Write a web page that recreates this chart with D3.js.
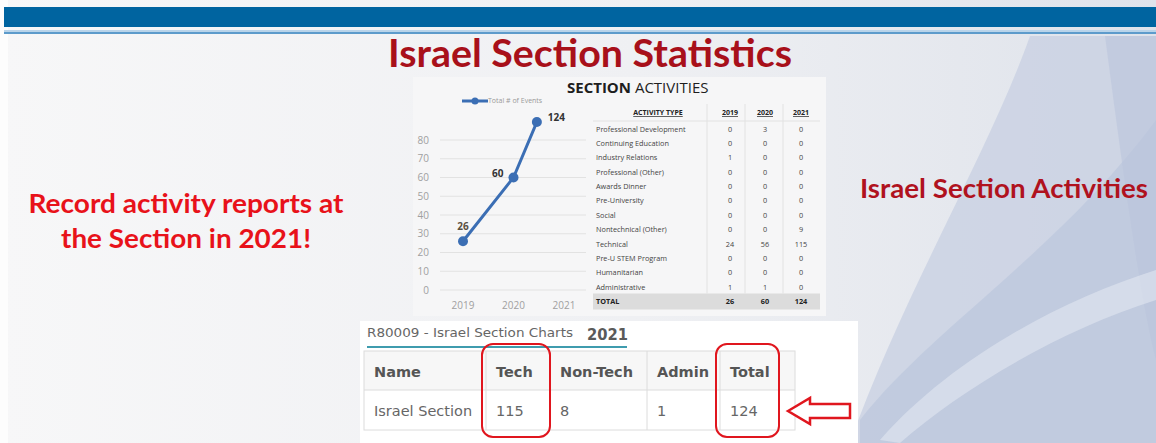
<!DOCTYPE html>
<html>
<head>
<meta charset="utf-8">
<script src="https://cdn.jsdelivr.net/npm/d3@7"></script>
<style>
  html, body { margin: 0; padding: 0; background: #fff; }
  svg { display: block; }
</style>
</head>
<body>
<svg id="slide" width="1156" height="443"></svg>
<script>
// ---- data ----
const years = ['2019', '2020', '2021'];
const totals = [26, 60, 124];
const yTicks = [0, 10, 20, 30, 40, 50, 60, 70, 80];

const activityTypes = [
    'Professional Development', 'Continuing Education', 'Industry Relations',
    'Professional (Other)', 'Awards Dinner', 'Pre-University', 'Social',
    'Nontechnical (Other)', 'Technical', 'Pre-U STEM Program', 'Humanitarian',
    'Administrative'
];
const counts2019 = [0, 0, 1, 0, 0, 0, 0, 0, 24, 0, 0, 1];
const counts2020 = [3, 0, 0, 0, 0, 0, 0, 0, 56, 0, 0, 1];
const counts2021 = [0, 0, 0, 0, 0, 0, 0, 9, 115, 0, 0, 0];

const summaryHeaders = ['Name', 'Tech', 'Non-Tech', 'Admin', 'Total'];
const summaryRow = ['Israel Section', '115', '8', '1', '124'];
const highlighted = ['Tech', 'Total'];

const svg = d3.select('#slide');
const W = 1156, H = 443;
const calibri = 'Lato, "Open Sans", sans-serif';
const defs = svg.append('defs');

// ---- slide background ----
const bg = defs.append('linearGradient').attr('id', 'bg').attr('x1', 0).attr('x2', 1).attr('y1', 0).attr('y2', 0);
bg.append('stop').attr('offset', '0%').attr('stop-color', '#f7f7f8');
bg.append('stop').attr('offset', '55%').attr('stop-color', '#eff0f3');
bg.append('stop').attr('offset', '100%').attr('stop-color', '#dfe3eb');
svg.append('rect').attr('width', W).attr('height', H).attr('fill', 'url(#bg)');
svg.append('rect').attr('width', 8).attr('height', H).attr('fill', '#fdfdfd');

// swooshes on the right
const swoosh = svg.append('g');
swoosh.append('path').attr('d', 'M1030,36 C990,150 900,300 850,443 L1156,443 L1156,36 Z').attr('fill', '#c9d1e2').attr('opacity', 0.8);
swoosh.append('path').attr('d', 'M1156,120 C1060,250 930,330 860,420 L860,443 L1156,443 Z').attr('fill', '#b7c2da').attr('opacity', 0.55);
swoosh.append('path').attr('d', 'M1156,36 L1105,36 C1120,150 1140,300 1156,360 Z').attr('fill', '#bac5dc').attr('opacity', 0.6);
swoosh.append('path').attr('d', 'M880,440 C950,360 1060,300 1156,270 L1156,300 C1060,330 960,390 900,443 Z').attr('fill', '#dde3ee').attr('opacity', 0.7);

// top banner
svg.append('rect').attr('x', 4).attr('y', 7).attr('width', W - 4).attr('height', 20).attr('fill', '#0064a0');
svg.append('rect').attr('x', 4).attr('y', 30).attr('width', W - 4).attr('height', 2).attr('fill', '#b9d4ea');
svg.append('rect').attr('x', 4).attr('y', 32).attr('width', W - 4).attr('height', 2).attr('fill', '#5d9bcb');

// title
svg.append('text')
    .attr('x', 590).attr('y', 67)
    .attr('text-anchor', 'middle')
    .attr('font-family', calibri).attr('font-weight', 'bold').attr('font-size', 39)
    .attr('fill', '#a8101a')
    .attr('textLength', 404).attr('lengthAdjust', 'spacingAndGlyphs')
    .text('Israel Section Statistics');

// side captions
const leftLines = ['Record activity reports at', 'the Section in 2021!'];
const leftWidths = [315, 250];
svg.append('g').selectAll('text')
    .data(leftLines)
    .join('text')
    .attr('x', 186).attr('y', (d, i) => 213 + i * 35)
    .attr('text-anchor', 'middle')
    .attr('font-family', calibri).attr('font-weight', 'bold').attr('font-size', 26)
    .attr('fill', '#e8121a')
    .attr('textLength', (d, i) => leftWidths[i]).attr('lengthAdjust', 'spacingAndGlyphs')
    .text(d => d);

svg.append('text')
    .attr('x', 1004).attr('y', 198)
    .attr('text-anchor', 'middle')
    .attr('font-family', calibri).attr('font-weight', 'bold').attr('font-size', 26)
    .attr('fill', '#b0121e')
    .attr('textLength', 288).attr('lengthAdjust', 'spacingAndGlyphs')
    .text('Israel Section Activities');

// ---- pasted report image: line chart + activities table ----
svg.append('rect').attr('x', 413).attr('y', 77).attr('width', 413).attr('height', 239).attr('fill', '#f6f6f7');

svg.append('text')
    .attr('x', 567).attr('y', 93)
    .attr('font-family', '"Open Sans", sans-serif').attr('font-size', 15).attr('fill', '#1e1e1e')
    .call(t => {
        t.append('tspan').attr('font-weight', 'bold').text('SECTION');
        t.append('tspan').text(' ACTIVITIES');
    });

const chart = svg.append('g');
const x = d3.scalePoint().domain(years).range([463, 564]);
const y = d3.scaleLinear().domain([0, 80]).range([290, 140]);
const plotTop = 122;

// grid + y labels
chart.append('g').selectAll('line').data(yTicks).join('line')
    .attr('x1', 440).attr('x2', 586)
    .attr('y1', d => y(d)).attr('y2', d => y(d))
    .attr('stroke', '#e2e2e2').attr('stroke-width', 1);
chart.append('g').selectAll('text').data(yTicks).join('text')
    .attr('x', 429).attr('y', d => y(d)).attr('dy', '0.35em')
    .attr('text-anchor', 'end')
    .attr('font-family', '"Open Sans", sans-serif').attr('font-size', 10).attr('fill', '#a0a0a0')
    .text(d => d);

// x labels
chart.append('g').selectAll('text').data(years).join('text')
    .attr('x', d => x(d)).attr('y', 309)
    .attr('text-anchor', 'middle')
    .attr('font-family', '"Open Sans", sans-serif').attr('font-size', 10).attr('fill', '#a0a0a0')
    .text(d => d);

// line, clipped at the top of the plot like the original
defs.append('clipPath').attr('id', 'plotClip')
    .append('rect').attr('x', 430).attr('y', plotTop - 4).attr('width', 170).attr('height', 290 - plotTop + 10);

const points = years.map((yr, i) => ({ year: yr, value: totals[i] }));
const lineColor = '#3b6eb4';
chart.append('path')
    .datum(points)
    .attr('clip-path', 'url(#plotClip)')
    .attr('fill', 'none')
    .attr('stroke', lineColor).attr('stroke-width', 3)
    .attr('d', d3.line().x(d => x(d.year)).y(d => y(d.value)));

// markers: the last one sits where the line leaves the plot
const vTop = y.invert(plotTop);
const markerPos = points.map((d, i) => {
    if (d.value <= vTop) return { x: x(d.year), y: y(d.value) };
    const p = points[i - 1];
    const t = (vTop - p.value) / (d.value - p.value);
    return { x: x(p.year) + t * (x(d.year) - x(p.year)), y: y(vTop) };
});
chart.append('g').selectAll('circle').data(markerPos).join('circle')
    .attr('cx', d => d.x).attr('cy', d => d.y).attr('r', 5)
    .attr('fill', lineColor);

// data labels
const labelOffsets = [{ dx: 0, dy: -11, a: 'middle' }, { dx: -10, dy: -1, a: 'end' }, { dx: 11, dy: -1, a: 'start' }];
chart.append('g').selectAll('text').data(points).join('text')
    .attr('x', (d, i) => markerPos[i].x + labelOffsets[i].dx)
    .attr('y', (d, i) => markerPos[i].y + labelOffsets[i].dy)
    .attr('text-anchor', (d, i) => labelOffsets[i].a)
    .attr('font-family', '"Open Sans", sans-serif').attr('font-weight', 'bold').attr('font-size', 10)
    .attr('fill', (d, i) => i === 0 ? '#5a5040' : '#333')
    .text(d => d.value);

// legend
const legend = chart.append('g');
legend.append('line').attr('x1', 462).attr('x2', 488).attr('y1', 101).attr('y2', 101)
    .attr('stroke', lineColor).attr('stroke-width', 3);
legend.append('circle').attr('cx', 475).attr('cy', 101).attr('r', 3.5).attr('fill', lineColor);
legend.append('text').attr('x', 488).attr('y', 101).attr('dy', '0.35em')
    .attr('font-family', '"Open Sans", sans-serif').attr('font-size', 7).attr('fill', '#9a9a9a')
    .text('Total # of Events');

// activities table
const table = svg.append('g');
const rowLabels = activityTypes.concat(['TOTAL']);
const row = d3.scalePoint().domain(rowLabels).range([129, 301.5]);
const col = d3.scaleOrdinal().domain(years).range([730, 765, 801]);
const colData = { '2019': counts2019, '2020': counts2020, '2021': counts2021 };
const tableFont = '"Open Sans", sans-serif';

table.append('rect').attr('x', 593).attr('y', row('TOTAL') - 8).attr('width', 227).attr('height', 16).attr('fill', '#dcdcdc');
table.append('g').selectAll('line').data([707, 745, 783]).join('line')
    .attr('x1', d => d).attr('x2', d => d).attr('y1', 104).attr('y2', row('TOTAL') - 8)
    .attr('stroke', '#e2e2e2');
table.append('line').attr('x1', 593).attr('x2', 820).attr('y1', 121).attr('y2', 121).attr('stroke', '#e2e2e2');

const headerY = 115;
table.append('text').attr('x', 658).attr('y', headerY).attr('text-anchor', 'middle')
    .attr('font-family', tableFont).attr('font-weight', 'bold').attr('font-size', 7)
    .attr('text-decoration', 'underline').attr('fill', '#222')
    .text('ACTIVITY TYPE');
table.append('g').selectAll('text').data(years).join('text')
    .attr('x', d => col(d)).attr('y', headerY).attr('text-anchor', 'middle')
    .attr('font-family', tableFont).attr('font-weight', 'bold').attr('font-size', 7)
    .attr('text-decoration', 'underline').attr('fill', '#222')
    .text(d => d);

table.append('g').selectAll('text').data(rowLabels).join('text')
    .attr('x', 596).attr('y', d => row(d)).attr('dy', '0.35em')
    .attr('font-family', tableFont).attr('font-size', 7.3)
    .attr('font-weight', d => d === 'TOTAL' ? 'bold' : 'normal')
    .attr('fill', d => d === 'TOTAL' ? '#222' : '#444')
    .text(d => d);

years.forEach((yr, j) => {
    const vals = colData[yr].concat([totals[j]]);
    table.append('g').selectAll('text').data(vals).join('text')
        .attr('x', col(yr)).attr('y', (d, i) => row(rowLabels[i])).attr('dy', '0.35em')
        .attr('text-anchor', 'middle')
        .attr('font-family', tableFont).attr('font-size', 7.3)
        .attr('font-weight', (d, i) => i === rowLabels.length - 1 ? 'bold' : 'normal')
        .attr('fill', (d, i) => i === rowLabels.length - 1 ? '#222' : '#444')
        .text(d => d);
});

// ---- pasted summary table (bottom) ----
const summary = svg.append('g');
const verdana = '"DejaVu Sans", Verdana, sans-serif';
summary.append('rect').attr('x', 360).attr('y', 321).attr('width', 498).attr('height', 122).attr('fill', '#ffffff');
summary.append('text').attr('x', 367).attr('y', 337)
    .attr('font-family', verdana).attr('font-size', 11.5).attr('fill', '#666')
    .attr('textLength', 206).attr('lengthAdjust', 'spacingAndGlyphs')
    .text('R80009 - Israel Section Charts');
summary.append('text').attr('x', 587).attr('y', 340)
    .attr('font-family', verdana).attr('font-weight', 'bold').attr('font-size', 16).attr('fill', '#5a5a5a')
    .attr('textLength', 41).attr('lengthAdjust', 'spacingAndGlyphs')
    .text('2021');
summary.append('line').attr('x1', 367).attr('x2', 627).attr('y1', 347).attr('y2', 347)
    .attr('stroke', '#3f9cae').attr('stroke-width', 2);

const edges = [364, 486, 550, 647, 720, 795];
const sTop = 351, sMid = 390, sBot = 430;
summary.append('rect').attr('x', edges[0]).attr('y', sTop).attr('width', edges[5] - edges[0]).attr('height', sMid - sTop)
    .attr('fill', '#f7f7f7');
summary.append('rect').attr('x', edges[0]).attr('y', sTop).attr('width', edges[5] - edges[0]).attr('height', sBot - sTop)
    .attr('fill', 'none').attr('stroke', '#dcdcdc');
summary.append('line').attr('x1', edges[0]).attr('x2', edges[5]).attr('y1', sMid).attr('y2', sMid).attr('stroke', '#dcdcdc');
summary.append('g').selectAll('line').data(edges.slice(1, 5)).join('line')
    .attr('x1', d => d).attr('x2', d => d).attr('y1', sTop).attr('y2', sBot).attr('stroke', '#dcdcdc');

summary.append('g').selectAll('text').data(summaryHeaders).join('text')
    .attr('x', (d, i) => edges[i] + 10).attr('y', 377)
    .attr('font-family', verdana).attr('font-weight', 'bold').attr('font-size', 14.5).attr('fill', '#555')
    .text(d => d);
summary.append('g').selectAll('text').data(summaryRow).join('text')
    .attr('x', (d, i) => edges[i] + 10).attr('y', 416)
    .attr('font-family', verdana).attr('font-size', 14.5).attr('fill', '#666')
    .text(d => d);

// red highlight boxes
summary.append('g').selectAll('rect').data(highlighted).join('rect')
    .attr('x', d => edges[summaryHeaders.indexOf(d)] - 4)
    .attr('y', 344)
    .attr('width', d => d === 'Total' ? 63 : 68)
    .attr('height', 93)
    .attr('rx', 11)
    .attr('fill', 'none').attr('stroke', '#e0161e').attr('stroke-width', 2);

// red outline arrow pointing at the total
summary.append('path')
    .attr('d', 'M788,411 L810,398 L810,404 L850,404 L850,418 L810,418 L810,424 Z')
    .attr('fill', '#ffffff').attr('stroke', '#e0161e').attr('stroke-width', 2.5).attr('stroke-linejoin', 'miter');
</script>
</body>
</html>
